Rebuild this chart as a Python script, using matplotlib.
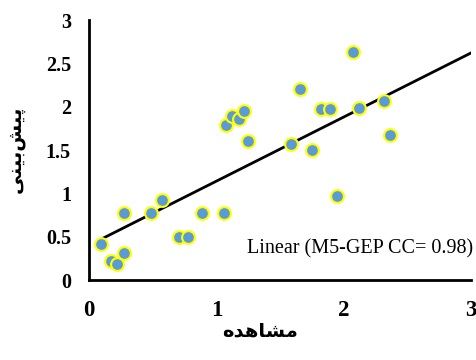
import numpy as np
import matplotlib.pyplot as plt

# observed vs predicted values
observed = [0.094, 0.17, 0.22, 0.275, 0.275, 0.49, 0.57, 0.71, 0.78, 0.89, 1.06,
            1.075, 1.12, 1.18, 1.22, 1.25, 1.59, 1.66, 1.75, 1.82, 1.89, 1.95,
            2.07, 2.12, 2.32, 2.36]
predicted = [0.415, 0.22, 0.18, 0.31, 0.77, 0.77, 0.92, 0.50, 0.50, 0.77, 0.77,
             1.79, 1.89, 1.86, 1.95, 1.60, 1.57, 2.20, 1.50, 1.97, 1.97, 0.97,
             2.63, 1.98, 2.06, 1.67]

# trend line (start / end)
trend_x = [0.094, 3.0]
trend_y = [0.47, 2.62]

ticks = [0, 0.5, 1, 1.5, 2, 2.5, 3]
xticks = [0, 1, 2, 3]
legend_text = 'Linear (M5-GEP CC= 0.98)'

# Persian labels written in presentation forms (matplotlib does no shaping)
xlabel = '\uFEE9\uFEAA\uFEEB\uFE8E\uFEB8\uFEE3'            # مشاهده
ylabel = '\uFBFD\uFEE8\uFBFF\uFE91\u200C\uFEB6\uFBFF\uFB58'  # پیش‌بینی

serif = ['Liberation Serif', 'DejaVu Serif']
arab = ['DejaVu Sans']

fig = plt.figure(figsize=(4.77, 3.6), dpi=100)
ax = fig.add_axes([89 / 477, 80 / 360, 382 / 477, 260 / 360])

ax.plot(trend_x, trend_y, color='black', lw=2, zorder=2)
ax.scatter(observed, predicted, s=85, color='#5B9BD5', edgecolors='#FFFF00',
           linewidths=1.5, zorder=3)

ax.set_xlim(0, 3)
ax.set_ylim(0, 3)
ax.set_xticks(xticks)
ax.set_yticks(ticks)
ax.set_xticklabels([f'{t:g}' for t in xticks], family=serif, fontweight='bold', fontsize=16.5)
ax.set_yticklabels([f'{t:g}' for t in ticks], family=serif, fontweight='bold', fontsize=14.5)
ax.tick_params(length=0)
ax.tick_params(axis='x', pad=14.5)
ax.tick_params(axis='y', pad=13)
ax.spines['top'].set_visible(False)
ax.spines['right'].set_visible(False)
ax.spines['left'].set_linewidth(2)
ax.spines['bottom'].set_linewidth(2)

ax.text(3.015, 0.36, legend_text, family=serif, fontsize=14.5, ha='right', va='center',
        clip_on=False)

fig.text(260 / 477, 1 - 331 / 360, xlabel, family=arab, fontweight='bold', fontsize=14,
         ha='center', va='center')
fig.text(17 / 477, 1 - 151 / 360, ylabel, family=arab, fontweight='bold', fontsize=14,
         ha='center', va='center', rotation=90)

fig.savefig('out.png', dpi=100)
